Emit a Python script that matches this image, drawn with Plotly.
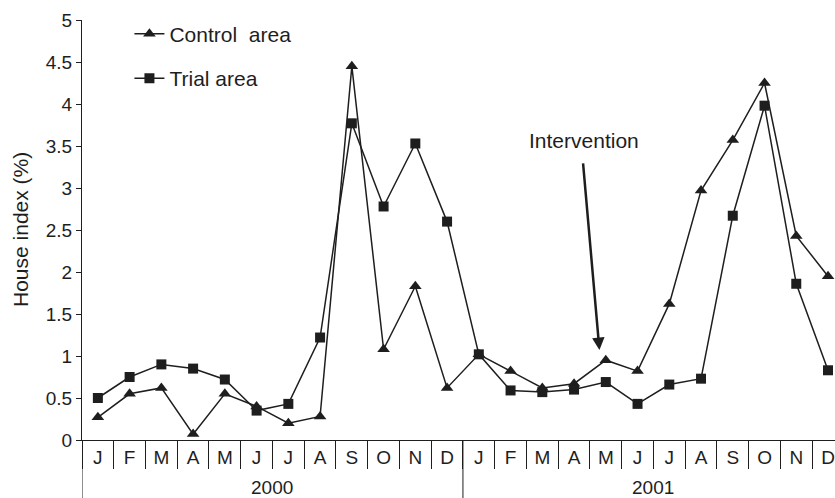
import plotly.graph_objects as go

months = ["J", "F", "M", "A", "M", "J", "J", "A", "S", "O", "N", "D"]
years = ["2000", "2001"]
month_labels = months + months

control = [0.27, 0.55, 0.62, 0.07, 0.55, 0.40, 0.20, 0.28, 4.45, 1.08, 1.83, 0.62,
           1.02, 0.82, 0.62, 0.67, 0.95, 0.82, 1.62, 2.97, 3.57, 4.25, 2.43, 1.95]
trial = [0.50, 0.75, 0.90, 0.85, 0.72, 0.35, 0.43, 1.22, 3.77, 2.78, 3.53, 2.60,
         1.02, 0.59, 0.57, 0.60, 0.69, 0.43, 0.66, 0.73, 2.67, 3.98, 1.86, 0.83]

y_ticks = [0, 0.5, 1, 1.5, 2, 2.5, 3, 3.5, 4, 4.5, 5]
y_ticktext = ["0", "0.5", "1", "1.5", "2", "2.5", "3", "3.5", "4", "4.5", "5"]

intervention_x = 15.8   # arrow tip, near May 2001
intervention_y = 1.07
intervention_tail_x = 15.28
intervention_tail_y = 3.31

INK = "#1e1e1e"
FONT = "Liberation Sans, Arial, sans-serif"

x = list(range(len(month_labels)))

fig = go.Figure()
fig.add_trace(go.Scatter(
    x=x, y=control, name="Control  area", mode="lines+markers",
    line=dict(color=INK, width=1.5),
    marker=dict(symbol="triangle-up", size=11, color=INK),
    legendgroup="c", cliponaxis=False,
))
fig.add_trace(go.Scatter(
    x=x, y=trial, name="Trial area", mode="lines+markers",
    line=dict(color=INK, width=1.5),
    marker=dict(symbol="square", size=10, color=INK),
    legendgroup="t", cliponaxis=False,
))

fig.update_layout(
    width=835, height=498,
    margin=dict(l=82, r=0, t=20, b=58, autoexpand=False),
    plot_bgcolor="white", paper_bgcolor="white",
    font=dict(family=FONT, size=19, color=INK),
    showlegend=True,
    legend=dict(
        x=0.063, y=1.015, xanchor="left", yanchor="top",
        bgcolor="rgba(0,0,0,0)", font=dict(size=21),
        tracegroupgap=14, itemwidth=30,
    ),
)

fig.update_xaxes(
    range=[-0.5, 23.22],
    tickmode="array", tickvals=x, ticktext=month_labels,
    ticks="", showgrid=False, zeroline=False, automargin=False,
    showline=True, linecolor=INK, linewidth=1,
    tickfont=dict(size=19),
    minor=dict(
        tickmode="array",
        tickvals=[k + 0.5 for k in range(-1, 24)],
        ticks="outside", ticklen=28, tickcolor=INK, tickwidth=1, showgrid=False,
    ),
)
fig.update_yaxes(
    range=[0, 5],
    tickmode="array", tickvals=y_ticks, ticktext=y_ticktext,
    ticks="outside", ticklen=5, tickcolor=INK,
    showgrid=False, zeroline=False, automargin=False,
    showline=True, linecolor=INK, linewidth=1,
    tickfont=dict(size=19),
)

# y-axis title
fig.add_annotation(x=0, y=0.5, xref="paper", yref="paper", xshift=-62,
                   text="House index (%)", textangle=-90, showarrow=False,
                   xanchor="center", yanchor="middle", font=dict(size=21))

# year dividers (extending below the month row)
for xv in [-0.5, 11.5]:
    fig.add_shape(type="line", xref="x", yref="paper", x0=xv, x1=xv, y0=0, y1=-0.14,
                  line=dict(color=INK, width=1))

# year labels
for i, yr in enumerate(years):
    fig.add_annotation(x=5.5 + 12 * i, y=-0.112, xref="x", yref="paper", text=yr,
                       showarrow=False, yanchor="middle", font=dict(size=19))

# intervention annotation
fig.add_annotation(x=15.3, y=3.57, xref="x", yref="y", text="Intervention",
                   showarrow=False, font=dict(size=21))
fig.add_annotation(x=intervention_x, y=intervention_y, xref="x", yref="y",
                   ax=intervention_tail_x, ay=intervention_tail_y, axref="x", ayref="y",
                   text="", showarrow=True, arrowhead=2, arrowsize=1.0, arrowwidth=2.5,
                   arrowcolor=INK)

fig.write_html("out.html", config={"displayModeBar": False},
               post_script="document.body.style.margin='0';")
